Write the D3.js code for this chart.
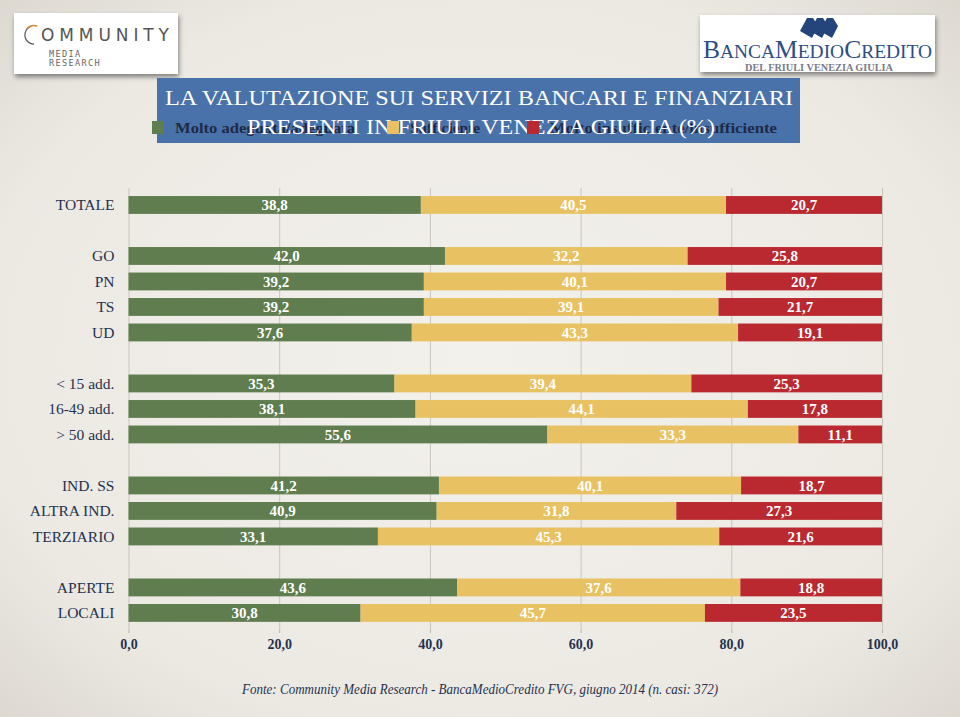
<!DOCTYPE html>
<html><head><meta charset="utf-8">
<script src="https://cdn.jsdelivr.net/npm/d3@7"></script>
<style>
html,body{margin:0;padding:0;background:#ebe8e2;}
svg{display:block;}
</style></head>
<body>
<svg id="chart" width="960" height="717"></svg>
<script>
// ---------- DATA ----------
const categories = ["TOTALE","GO","PN","TS","UD","< 15 add.","16-49 add.","> 50 add.","IND. SS","ALTRA IND.","TERZIARIO","APERTE","LOCALI"];
const groupBreaksAfter = ["TOTALE","UD","> 50 add.","TERZIARIO"];
const adeguata      = [38.8,42.0,39.2,39.2,37.6,35.3,38.1,55.6,41.2,40.9,33.1,43.6,30.8];
const sufficiente   = [40.5,32.2,40.1,39.1,43.3,39.4,44.1,33.3,40.1,31.8,45.3,37.6,45.7];
const insufficiente = [20.7,25.8,20.7,21.7,19.1,25.3,17.8,11.1,18.7,27.3,21.6,18.8,23.5];
const seriesKeys   = ["adeguata","sufficiente","insufficiente"];
const seriesNames  = ["Molto adeguata/adeguata","Sufficiente","Molto insufficiente/insufficiente"];
const seriesColors = ["#5f7d4e","#e8c262","#b9292f"];
const tickValues = [0,20,40,60,80,100];
const tickLabels = ["0,0","20,0","40,0","60,0","80,0","100,0"];
const titleLines = ["LA VALUTAZIONE SUI SERVIZI BANCARI E FINANZIARI","PRESENTI IN FRIULI VENEZIA GIULIA (%)"];
const footnote = "Fonte: Community Media Research - BancaMedioCredito FVG, giugno 2014 (n. casi: 372)";

// ---------- SETUP ----------
const svg = d3.select("#chart");
const serif = "'Liberation Serif','DejaVu Serif',serif";
const navy = "#24314f";
const defs = svg.append("defs");

const rg = defs.append("radialGradient").attr("id","paper").attr("cx","50%").attr("cy","50%").attr("r","75%");
rg.append("stop").attr("offset","0%").attr("stop-color","#f3f1ec");
rg.append("stop").attr("offset","70%").attr("stop-color","#ece9e3");
rg.append("stop").attr("offset","100%").attr("stop-color","#d9d5cd");
svg.append("rect").attr("width",960).attr("height",717).attr("fill","url(#paper)");

const sh = defs.append("filter").attr("id","shadow").attr("x","-10%").attr("y","-20%").attr("width","130%").attr("height","160%");
sh.append("feDropShadow").attr("dx",1).attr("dy",3).attr("stdDeviation",2.5).attr("flood-color","#000").attr("flood-opacity",0.45);

// ---------- LOGOS ----------
const L = svg.append("g");
L.append("rect").attr("x",14).attr("y",13).attr("width",164).attr("height",61).attr("fill","#fff").attr("filter","url(#shadow)");
L.append("path").attr("d",d3.arc()({innerRadius:8.6,outerRadius:9.8,startAngle:Math.PI*1.0,endAngle:Math.PI*1.9})).attr("transform","translate(34,35)").attr("fill","#555");
L.append("path").attr("d",d3.arc()({innerRadius:8.6,outerRadius:10.2,startAngle:-Math.PI*0.12,endAngle:Math.PI*0.28})).attr("transform","translate(34,35) rotate(-30)").attr("fill","#d4873a");
L.append("text").attr("x",41).attr("y",41).attr("font-family","'DejaVu Sans',sans-serif").attr("font-size",17)
  .attr("fill","#555").attr("textLength",128).attr("lengthAdjust","spacing").text("OMMUNITY");
L.append("text").attr("x",49).attr("y",57).attr("font-family","'DejaVu Sans Mono',monospace").attr("font-size",8.5).attr("letter-spacing",1.4).attr("fill","#666").text("MEDIA");
L.append("text").attr("x",49).attr("y",66).attr("font-family","'DejaVu Sans Mono',monospace").attr("font-size",8.5).attr("letter-spacing",1.4).attr("fill","#666").text("RESEARCH");

const R = svg.append("g");
R.append("rect").attr("x",700).attr("y",15).attr("width",235).attr("height",57).attr("fill","#fff").attr("filter","url(#shadow)");
const markC = "#24457c";
[0,10,20].forEach(dx=>{
  R.append("path").attr("d",`M${800+dx},${31} l7,-13 l6,0 l5,8 l-6,12 Z`).attr("fill",markC);
});
const bmc = R.append("text").attr("x",703).attr("y",58).attr("font-family",serif).attr("fill","#2c4d86");
[["B",25],["ANCA",19],["M",25],["EDIO",19],["C",25],["REDITO",19]].forEach(([t,s])=>bmc.append("tspan").attr("font-size",s).text(t));
bmc.attr("textLength",229).attr("lengthAdjust","spacingAndGlyphs");
R.append("text").attr("x",819).attr("y",71).attr("text-anchor","middle").attr("font-family",serif).attr("font-weight","bold")
  .attr("font-size",10).attr("fill","#7a7a8a").attr("textLength",148).attr("lengthAdjust","spacingAndGlyphs").text("DEL FRIULI VENEZIA GIULIA");

// ---------- TITLE BOX + LEGEND ----------
svg.append("rect").attr("x",157).attr("y",78).attr("width",643).attr("height",65).attr("fill","#4a72aa");
const legendX = [152,387,527];
const legendTextW = [180,70,227];
seriesNames.forEach((n,i)=>{
  svg.append("text").attr("x",legendX[i]+23).attr("y",133).attr("font-family",serif).attr("font-weight","bold")
    .attr("font-size",15).attr("fill","#1e2a45").attr("textLength",legendTextW[i]).attr("lengthAdjust","spacingAndGlyphs").text(n);
});
svg.append("text").attr("x",479).attr("y",105).attr("text-anchor","middle").attr("font-family",serif).attr("font-size",22)
  .attr("fill","#fff").attr("textLength",628).attr("lengthAdjust","spacingAndGlyphs").text(titleLines[0]);
svg.append("text").attr("x",481).attr("y",134).attr("text-anchor","middle").attr("font-family",serif).attr("font-size",22)
  .attr("fill","#fff").attr("textLength",468).attr("lengthAdjust","spacingAndGlyphs").text(titleLines[1]);
seriesNames.forEach((n,i)=>{
  svg.append("rect").attr("x",legendX[i]).attr("y",121).attr("width",12).attr("height",13).attr("fill",seriesColors[i]);
});

// ---------- SCALES ----------
const domain = [];
categories.forEach((c,i)=>{ domain.push(c); if(groupBreaksAfter.includes(c)) domain.push("__gap"+i); });
const y = d3.scaleBand().domain(domain).range([188.4,629.5]).paddingInner(0.3).paddingOuter(0.3);
const x = d3.scaleLinear().domain([0,100]).range([128.5,882]);

// grid
const grid = svg.append("g").attr("transform","translate(0,630)")
  .call(d3.axisBottom(x).tickValues(tickValues).tickSize(-442).tickFormat(""));
grid.select(".domain").remove();
grid.selectAll("line").attr("stroke","#c9c5bd").attr("stroke-width",1);

// bars
const table = categories.map((c,i)=>({cat:c, adeguata:adeguata[i], sufficiente:sufficiente[i], insufficiente:insufficiente[i]}));
const stacked = d3.stack().keys(seriesKeys)(table);
const fmt = v => d3.format(".1f")(v).replace(".",",");
const barsG = svg.append("g");
stacked.forEach((layer,si)=>{
  const g = barsG.append("g");
  g.selectAll("rect").data(layer).join("rect")
    .attr("x",d=>x(d[0])).attr("width",d=>x(d[1])-x(d[0]))
    .attr("y",d=>y(d.data.cat)).attr("height",y.bandwidth())
    .attr("fill",seriesColors[si]);
  g.selectAll("text").data(layer).join("text")
    .attr("x",d=>(x(d[0])+x(d[1]))/2).attr("y",d=>y(d.data.cat)+y.bandwidth()/2)
    .attr("dy","0.36em").attr("text-anchor","middle")
    .attr("font-family",serif).attr("font-weight","bold").attr("font-size",15).attr("fill","#fff")
    .text(d=>fmt(d[1]-d[0]));
});

// x axis
const xa = svg.append("g").attr("transform","translate(0,630)")
  .call(d3.axisBottom(x).tickValues(tickValues).tickSize(3).tickPadding(6).tickFormat((d,i)=>tickLabels[i]))
  .attr("font-family",serif).attr("font-size",14);
xa.select(".domain").remove();
xa.selectAll("line").attr("stroke","#b5b1a9");
xa.selectAll("text").attr("font-family",serif).attr("font-weight","bold").attr("font-size",14).attr("fill",navy);

// y axis
const ya = svg.append("g").attr("transform","translate(128.5,0)")
  .call(d3.axisLeft(y).tickSize(0).tickPadding(14).tickFormat(d=>d.startsWith("__gap")?"":d))
  .attr("font-family",serif).attr("font-size",15.5);
ya.select(".domain").remove();
ya.selectAll("text").attr("font-family",serif).attr("font-size",15.5).attr("fill",navy).attr("dy","0.34em");

// footnote
svg.append("text").attr("x",480).attr("y",694).attr("text-anchor","middle").attr("font-family",serif).attr("font-style","italic")
  .attr("font-size",14).attr("fill",navy).attr("textLength",476).attr("lengthAdjust","spacingAndGlyphs").text(footnote);
</script>
</body></html>
